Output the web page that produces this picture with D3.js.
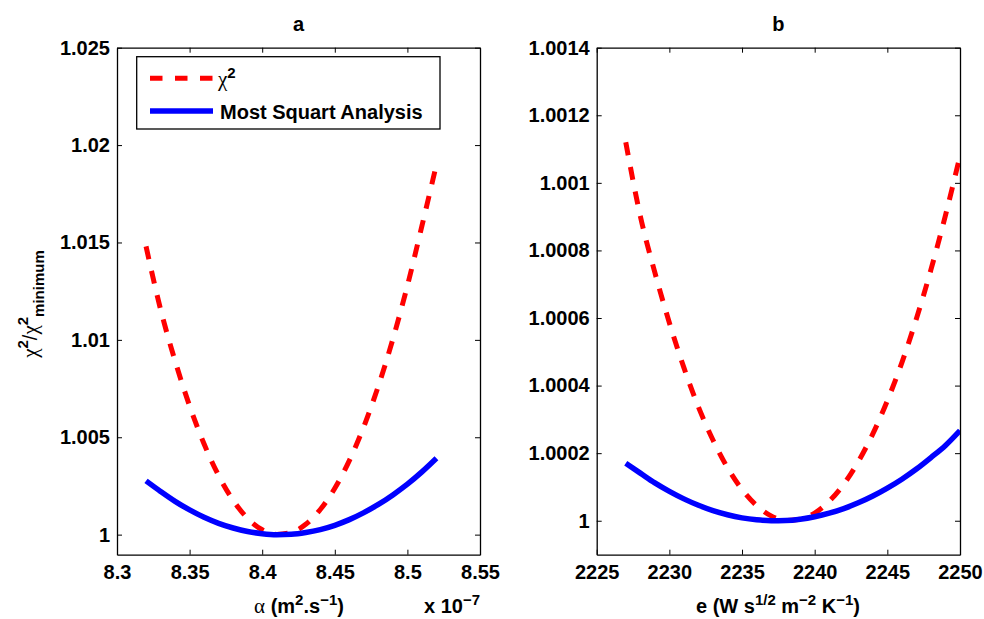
<!DOCTYPE html>
<html>
<head>
<meta charset="utf-8">
<script src="https://cdn.jsdelivr.net/npm/d3@7"></script>
<style>
  html, body { margin: 0; padding: 0; background: #fff; }
  svg { display: block; }
  text { font-family: "Liberation Sans", Arial, Helvetica, sans-serif; font-weight: bold; fill: #000; }
</style>
</head>
<body>
<svg id="chart" width="984" height="619"></svg>
<script>
// ---------------- DATA ----------------
// Panel a: thermal diffusivity alpha (x 10^-7 m^2/s)
const alphaX = [8.32, 8.33, 8.34, 8.35, 8.36, 8.37, 8.38, 8.39, 8.40, 8.41, 8.42,
                8.43, 8.44, 8.45, 8.46, 8.47, 8.48, 8.49, 8.50, 8.51, 8.52];
const alphaChi2 = [1.0148, 1.01157, 1.00892, 1.00661, 1.00465, 1.00303, 1.00176, 1.00083, 1.00025, 1.00001, 1.00011,
                   1.00053, 1.00129, 1.00238, 1.00380, 1.00555, 1.00763, 1.01004, 1.01278, 1.01585, 1.0190];
const alphaMSA = [1.00276, 1.00222, 1.00171, 1.00127, 1.00089, 1.00058, 1.00034, 1.00016, 1.00005, 1.00000, 1.00002,
                  1.00011, 1.00026, 1.00048, 1.00077, 1.00113, 1.00155, 1.00204, 1.00259, 1.00322, 1.00392];
const alphaXTicks = [8.3, 8.35, 8.4, 8.45, 8.5, 8.55];
const alphaYTicks = [1, 1.005, 1.01, 1.015, 1.02, 1.025];

// Panel b: thermal effusivity e (W s^1/2 m^-2 K^-1)
const effX = [2227, 2228, 2229, 2230, 2231, 2232, 2233, 2234, 2235, 2236, 2237, 2238,
              2239, 2240, 2241, 2242, 2243, 2244, 2245, 2246, 2247, 2248, 2249, 2250];
const effChi2 = [1.00112, 1.000902, 1.000735, 1.000586, 1.000453, 1.000337, 1.000239, 1.000157, 1.0000926, 1.000045, 1.0000144, 1.0000008,
                 1.0000042, 1.0000228, 1.0000576, 1.000108, 1.000175, 1.000257, 1.000355, 1.000468, 1.000598, 1.000743, 1.000904, 1.00108];
const effMSA = [1.00017, 1.000141, 1.000112, 1.0000869, 1.0000647, 1.0000458, 1.0000301, 1.0000178, 1.0000086, 1.0000028, 1.0000001, 1.0000008,
                1.0000047, 1.0000119, 1.0000223, 1.000036, 1.000053, 1.0000732, 1.0000966, 1.000123, 1.000153, 1.000187, 1.000223, 1.000267];
const effXTicks = [2225, 2230, 2235, 2240, 2245, 2250];
const effYTicks = [1, 1.0002, 1.0004, 1.0006, 1.0008, 1.001, 1.0012, 1.0014];

const legendLabels = ["χ2", "Most Squart Analysis"];

// ---------------- DRAW ----------------
const svg = d3.select("#chart");
const plotTop = 47.7, plotBottom = 554.7;
const RED = "#ff0000", BLUE = "#0000ff";

function richText(sel, parts, supShift = -8, subShift = 5) {
  let shift = 0;
  parts.forEach(([t, kind]) => {
    const ts = sel.append("tspan").text(t);
    let target = 0;
    if (kind === "sup") { target = supShift; ts.attr("font-size", 15); }
    else if (kind === "sub") { target = subShift; ts.attr("font-size", 15); }
    if (kind === "sym") ts.attr("font-family", "'Liberation Serif','Times New Roman',serif").attr("font-weight", "normal").attr("font-size", 21);
    if (kind === "thin") ts.attr("font-weight", "normal");
    ts.attr("dy", target - shift);
    shift = target;
  });
}

function panel(opts) {
  const { x0, x1, xDomain, yDomain, xTicks, yTicks, xs, chi, msa, title } = opts;
  const x = d3.scaleLinear().domain(xDomain).range([x0, x1]);
  const y = d3.scaleLinear().domain(yDomain).range([plotBottom, plotTop]);
  const g = svg.append("g");

  const fmt = d => String(+d.toFixed(6));

  g.append("g").attr("transform", `translate(0,${plotBottom})`)
    .call(d3.axisBottom(x).tickValues(xTicks).tickSizeInner(-5).tickSizeOuter(0).tickPadding(10).tickFormat(fmt));
  g.append("g").attr("transform", `translate(0,${plotTop})`)
    .call(d3.axisTop(x).tickValues(xTicks).tickSizeInner(-5).tickSizeOuter(0).tickFormat(""));
  g.append("g").attr("transform", `translate(${x0},0)`)
    .call(d3.axisLeft(y).tickValues(yTicks).tickSizeInner(-5).tickSizeOuter(0).tickPadding(7).tickFormat(fmt));
  g.append("g").attr("transform", `translate(${x1},0)`)
    .call(d3.axisRight(y).tickValues(yTicks).tickSizeInner(-5).tickSizeOuter(0).tickFormat(""));

  g.selectAll(".domain").attr("stroke", "#000").attr("stroke-width", 1.3);
  g.selectAll(".tick line").attr("stroke", "#000").attr("stroke-width", 1);
  g.selectAll(".tick text").attr("font-size", 20).attr("font-family", "'Liberation Sans', Arial, sans-serif").attr("font-weight", "bold").attr("fill", "#000");

  const clipId = "clip" + Math.round(x0);
  svg.append("clipPath").attr("id", clipId).append("rect")
    .attr("x", x0).attr("y", plotTop).attr("width", x1 - x0).attr("height", plotBottom - plotTop);

  const line = d3.line().curve(d3.curveMonotoneX);
  const chiPts = xs.map((v, i) => [x(v), y(chi[i])]);
  const msaPts = xs.map((v, i) => [x(v), y(msa[i])]);

  const cg = g.append("g").attr("clip-path", `url(#${clipId})`);
  cg.append("path").attr("d", line(chiPts)).attr("fill", "none")
    .attr("stroke", RED).attr("stroke-width", 5).attr("stroke-dasharray", "13,12");
  cg.append("path").attr("d", line(msaPts)).attr("fill", "none")
    .attr("stroke", BLUE).attr("stroke-width", 5.5);

  g.append("text").attr("x", (x0 + x1) / 2).attr("y", 30.5)
    .attr("text-anchor", "middle").attr("font-size", 20).text(title);
  return { x, y, g };
}

const pa = panel({ x0: 117, x1: 480, xDomain: [8.3, 8.55], yDomain: [0.99897, 1.025],
  xTicks: alphaXTicks, yTicks: alphaYTicks, xs: alphaX, chi: alphaChi2, msa: alphaMSA, title: "a" });
const pb = panel({ x0: 596.7, x1: 960, xDomain: [2225, 2250], yDomain: [0.9998995, 1.0014],
  xTicks: effXTicks, yTicks: effYTicks, xs: effX, chi: effChi2, msa: effMSA, title: "b" });

// axis labels
const xla = svg.append("text").attr("x", 299).attr("y", 613).attr("text-anchor", "middle").attr("font-size", 20);
richText(xla, [["α", "sym"], [" (m", "n"], ["2", "sup"], [".s", "n"], ["−1", "sup"], [")", "n"]]);

const mult = svg.append("text").attr("x", 424).attr("y", 613).attr("font-size", 20);
richText(mult, [["x 10", "n"], ["−7", "sup"]]);

const xlb = svg.append("text").attr("x", 778).attr("y", 613).attr("text-anchor", "middle").attr("font-size", 20);
richText(xlb, [["e (W s", "n"], ["1/2", "sup"], [" m", "n"], ["−2", "sup"], [" K", "n"], ["−1", "sup"], [")", "n"]]);

const yl = svg.append("text").attr("transform", "translate(37,304) rotate(-90)")
  .attr("text-anchor", "middle").attr("font-size", 20);
richText(yl, [["χ", "sym"], ["2", "sup"], ["/", "thin"], ["χ", "sym"], ["2", "sup"], ["minimum", "sub"]], -9, 7);

// legend
const lg = svg.append("g");
lg.append("rect").attr("x", 136.7).attr("y", 56.7).attr("width", 303.3).attr("height", 72.3)
  .attr("fill", "#fff").attr("stroke", "#000").attr("stroke-width", 1.3);
lg.append("line").attr("x1", 150).attr("x2", 213).attr("y1", 78.3).attr("y2", 78.3)
  .attr("stroke", RED).attr("stroke-width", 5).attr("stroke-dasharray", "12.5,12.5");
lg.append("line").attr("x1", 150).attr("x2", 213).attr("y1", 111).attr("y2", 111)
  .attr("stroke", BLUE).attr("stroke-width", 5.5);
const l1 = lg.append("text").attr("x", 218).attr("y", 86).attr("font-size", 20);
richText(l1, [[legendLabels[0].slice(0, 1), "sym"], [legendLabels[0].slice(1), "sup"]]);
lg.append("text").attr("x", 220).attr("y", 119).attr("font-size", 20).text(legendLabels[1]);
</script>
</body>
</html>
